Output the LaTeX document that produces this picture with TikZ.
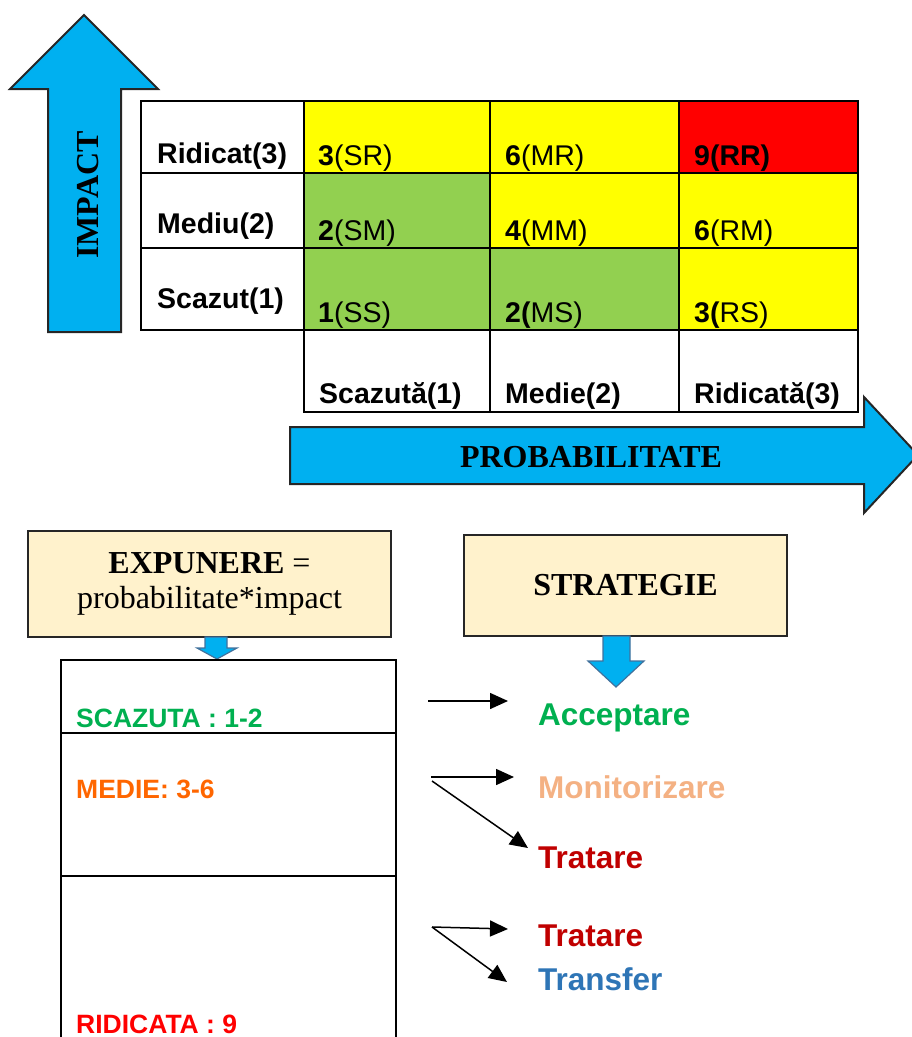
\documentclass[tikz,border=0pt]{standalone}
\usepackage{fontspec}
\setmainfont{Liberation Serif}
\newfontfamily\arial{Liberation Sans}
\usepackage{xcolor}
\usepackage{tikz}
\usetikzlibrary{calc}
\usetikzlibrary{arrows.meta}

\definecolor{sageata}{HTML}{00B0F0}
\definecolor{contur}{HTML}{41719C}
\definecolor{galben}{HTML}{FFFF00}
\definecolor{verde}{HTML}{92D050}
\definecolor{rosu}{HTML}{FF0000}
\definecolor{crem}{HTML}{FFF2CC}
\definecolor{vacc}{HTML}{00B050}
\definecolor{vmon}{HTML}{F4B183}
\definecolor{grena}{HTML}{C00000}
\definecolor{albastru}{HTML}{2E75B6}
\definecolor{vmedie}{HTML}{FF6600}

\tikzset{
  grila/.style={line width=2pt, black},
  celula/.style={anchor=base west, inner sep=0pt, font=\arial\fontsize{28.5}{30}\selectfont},
  eticheta/.style={anchor=base west, inner sep=0pt, font=\arial\bfseries\fontsize{28.5}{30}\selectfont},
  axa/.style={draw=black!85, line width=2pt, fill=sageata},
  titlu/.style={inner sep=0pt, font=\bfseries\fontsize{32}{34}\selectfont},
  caseta/.style={draw=black!85, line width=2.5pt, fill=crem, align=center, font=\fontsize{32}{35}\selectfont},
  mica/.style={draw=contur, line width=1.2pt, fill=sageata},
  nivel/.style={anchor=base west, inner sep=0pt, font=\arial\bfseries\fontsize{26.5}{28}\selectfont},
  strat/.style={anchor=base west, inner sep=0pt, font=\arial\bfseries\fontsize{31.5}{33}\selectfont},
  sag/.style={line width=1.5pt, -{Triangle[length=18pt,width=16pt]}}
}

\begin{document}
\begin{tikzpicture}[x=1pt,y=-1pt]
        \useasboundingbox (0,0) rectangle (912,1037);
        %IMPACT
        \draw[axa] (48,332) -- (48,89) -- (10,89) -- (84,15) -- (158,89) -- (121,89) -- (121,332) -- cycle;
        \node[titlu, rotate=90] (impact) at (88,195) {IMPACT};
        %CULORI
        \fill[galben] (304,101) rectangle (679,173);
        \fill[rosu] (679,101) rectangle (858,173);
        \fill[verde] (304,173) rectangle (490,330);
        \fill[galben] (490,173) rectangle (858,248);
        \fill[verde] (490,248) rectangle (679,330);
        \fill[galben] (679,248) rectangle (858,330);
        %TABEL
        \draw[grila] (141,101) rectangle (858,330);
        \draw[grila] (141,173) -- (858,173);
        \draw[grila] (141,248) -- (858,248);
        \draw[grila] (304,101) -- (304,412) -- (858,412) -- (858,330);
        \draw[grila] (490,101) -- (490,412);
        \draw[grila] (679,101) -- (679,412);
        %RANDURI
        \node[eticheta] (ir) at (157,163) {Ridicat(3)};
        \node[eticheta] (im) at (157,233) {Mediu(2)};
        \node[eticheta] (is) at (157,308) {Scazut(1)};
        \node[celula] (sr) at (318,165) {\textbf{3}(SR)};
        \node[celula] (mr) at (505,165) {\textbf{6}(MR)};
        \node[celula] (rr) at (694,165) {\textbf{9(RR)}};
        \node[celula] (sm) at (318,240) {\textbf{2}(SM)};
        \node[celula] (mm) at (505,240) {\textbf{4}(MM)};
        \node[celula] (rm) at (694,240) {\textbf{6}(RM)};
        \node[celula] (ss) at (318,322) {\textbf{1}(SS)};
        \node[celula] (ms) at (505,322) {\textbf{2(}MS)};
        \node[celula] (rs) at (694,322) {\textbf{3(}RS)};
        %COLOANE
        \node[eticheta] (ps) at (319,403) {Scazută(1)};
        \node[eticheta] (pm) at (505,403) {Medie(2)};
        \node[eticheta] (pr) at (694,403) {Ridicată(3)};
        %PROBABILITATE
        \draw[axa] (290,427) -- (864,427) -- (864,397) -- (918,455) -- (864,513) -- (864,484) -- (290,484) -- cycle;
        \node[titlu] (prob) at (591,457) {PROBABILITATE};
        %EXPUNERE
        \node[caseta, minimum width=363pt, minimum height=106pt] (expunere) at (209.5,584) {\textbf{EXPUNERE} =\\probabilitate*impact};
        \draw[mica] (205,637) -- (205,648) -- (197,648) -- (217,659) -- (237,648) -- (227,648) -- (227,637) -- cycle;
        %STRATEGIE
        \node[caseta, minimum width=323pt, minimum height=101pt, font=\bfseries\fontsize{32}{35}\selectfont] (strategie) at (625.5,585.5) {STRATEGIE};
        \draw[mica] (603,636) -- (603,661) -- (588,661) -- (616,687) -- (644,661) -- (630,661) -- (630,636) -- cycle;
        %NIVELURI
        \draw[line width=2.5pt] (61,1040) -- (61,660) -- (396,660) -- (396,1040);
        \draw[line width=2.5pt] (61,733) -- (396,733);
        \draw[line width=2.5pt] (61,876) -- (396,876);
        \node[nivel, text=vacc] (scazuta) at (76,727) {SCAZUTA : 1-2};
        \node[nivel, text=vmedie] (medie) at (76,798) {MEDIE: 3-6};
        \node[nivel, text=rosu] (ridicata) at (76,1033) {RIDICATA : 9};
        %STRATEGII
        \node[strat, text=vacc] (acc) at (538,725) {Acceptare};
        \node[strat, text=vmon] (mon) at (538,798) {Monitorizare};
        \node[strat, text=grena] (tra1) at (538,868) {Tratare};
        \node[strat, text=grena] (tra2) at (538,946) {Tratare};
        \node[strat, text=albastru] (tsf) at (538,990) {Transfer};
        %SAGETI
        \coordinate (a1) at (428,701); \coordinate (b1) at (508,701);
        \coordinate (a2) at (431,777); \coordinate (b2) at (514,777);
        \coordinate (a3) at (432,781); \coordinate (b3) at (528,848);
        \coordinate (a4) at (432,927); \coordinate (b4) at (508,929);
        \coordinate (b5) at (507,982);
        \draw[sag] (a1) -- (b1);
        \draw[sag] (a2) -- (b2);
        \draw[sag] (a3) -- (b3);
        \draw[sag] (a4) -- (b4);
        \draw[sag] (a4) -- (b5);
\end{tikzpicture}
\end{document}
